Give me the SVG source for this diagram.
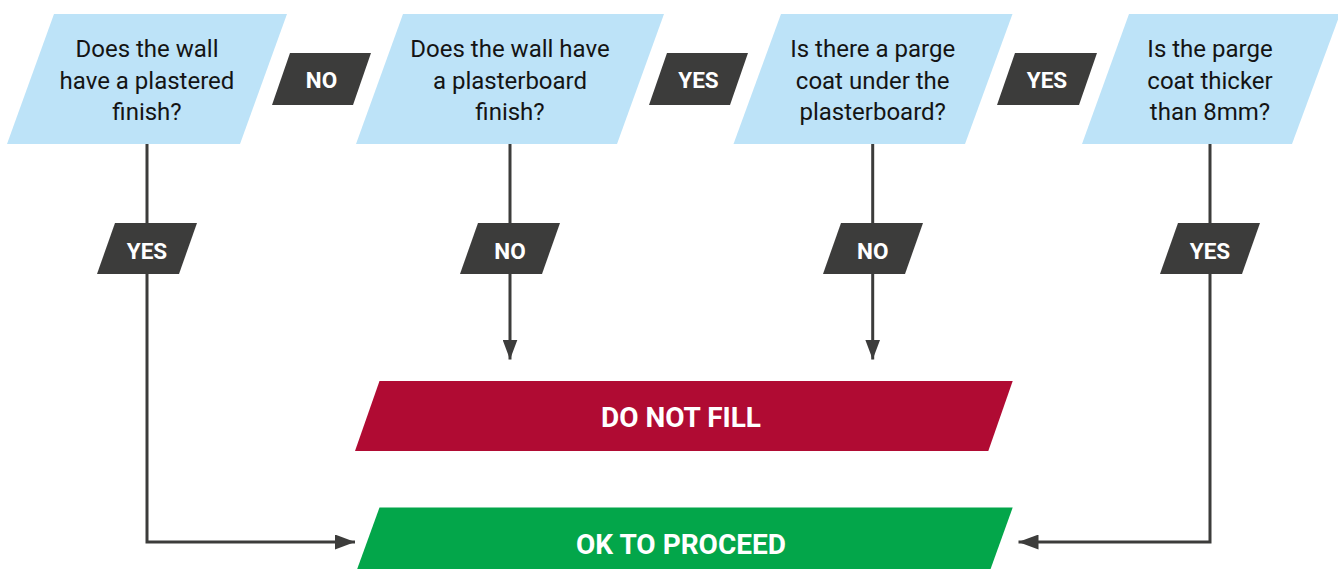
<svg xmlns="http://www.w3.org/2000/svg" width="1338" height="569" viewBox="0 0 1338 569">
  <style>
    .q { fill: #bde3f8; }
    .lbl { fill: #3c3c3b; }
    .qt { font-family: Roboto, "Liberation Sans", sans-serif; font-size: 24px; fill: #141414; text-anchor: middle; }
    .lt { font-family: Roboto, "Liberation Sans", sans-serif; font-size: 22.5px; font-weight: bold; fill: #ffffff; text-anchor: middle; }
    .bt { font-family: Roboto, "Liberation Sans", sans-serif; font-size: 28px; font-weight: bold; fill: #ffffff; text-anchor: middle; }
    .conn { fill: none; stroke: #3c3c3b; stroke-width: 3; }
  </style>
  <defs>
    <marker id="arrow" markerUnits="userSpaceOnUse" markerWidth="20" markerHeight="15" refX="20" refY="7.5" orient="auto">
      <path d="M0,0 L20,7.5 L0,15 z" fill="#3c3c3b"/>
    </marker>
  </defs>
  <rect width="1338" height="569" fill="#ffffff"/>

  <g id="connectors">
    <polyline class="conn" points="147,144 147,542 355,542" marker-end="url(#arrow)"/>
    <line class="conn" x1="510" y1="144" x2="510" y2="359.5" marker-end="url(#arrow)"/>
    <line class="conn" x1="872.7" y1="144" x2="872.7" y2="359.5" marker-end="url(#arrow)"/>
    <polyline class="conn" points="1210,144 1210,542 1018.5,542" marker-end="url(#arrow)"/>
  </g>

  <g id="q1">
    <polygon class="q" points="54,14 287,14 240,144 7,144"/>
    <text class="qt" x="147" y="57">Does the wall</text>
    <text class="qt" x="147" y="88.5">have a plastered</text>
    <text class="qt" x="147" y="120">finish?</text>
  </g>
  <g id="q2">
    <polygon class="q" points="403,14 664,14 617,144 356,144"/>
    <text class="qt" x="510" y="57">Does the wall have</text>
    <text class="qt" x="510" y="88.5">a plasterboard</text>
    <text class="qt" x="510" y="120">finish?</text>
  </g>
  <g id="q3">
    <polygon class="q" points="781,14 1012.5,14 965,144 733.5,144"/>
    <text class="qt" x="872.7" y="57">Is there a parge</text>
    <text class="qt" x="872.7" y="88.5">coat under the</text>
    <text class="qt" x="872.7" y="120">plasterboard?</text>
  </g>
  <g id="q4">
    <polygon class="q" points="1129,14 1340,14 1292,144 1082,144"/>
    <text class="qt" x="1210" y="57">Is the parge</text>
    <text class="qt" x="1210" y="88.5">coat thicker</text>
    <text class="qt" x="1210" y="120">than 8mm?</text>
  </g>

  <g id="label-no-1">
    <polygon class="lbl" points="290,53 371,53 353,105 272,105"/>
    <text class="lt" x="321.5" y="88">NO</text>
  </g>
  <g id="label-yes-1">
    <polygon class="lbl" points="667,53 748,53 730,105 649,105"/>
    <text class="lt" x="698.5" y="88">YES</text>
  </g>
  <g id="label-yes-2">
    <polygon class="lbl" points="1015,53 1097,53 1079,105 997,105"/>
    <text class="lt" x="1047" y="88">YES</text>
  </g>
  <g id="label-yes-3">
    <polygon class="lbl" points="115,223 197,223 179,274 97,274"/>
    <text class="lt" x="147" y="258.5">YES</text>
  </g>
  <g id="label-no-2">
    <polygon class="lbl" points="478,223 560,223 542,274 460,274"/>
    <text class="lt" x="510" y="258.5">NO</text>
  </g>
  <g id="label-no-3">
    <polygon class="lbl" points="841,223 923,223 905,274 823,274"/>
    <text class="lt" x="872.7" y="258.5">NO</text>
  </g>
  <g id="label-yes-4">
    <polygon class="lbl" points="1178,223 1260,223 1242,274 1160,274"/>
    <text class="lt" x="1210" y="258.5">YES</text>
  </g>

  <g id="do-not-fill">
    <polygon fill="#b00b33" points="379.5,381 1012.7,381 988.3,451 355,451"/>
    <text class="bt" x="681" y="427">DO NOT FILL</text>
  </g>
  <g id="ok-to-proceed">
    <polygon fill="#03a64a" points="379.5,507.5 1012.7,507.5 987.7,577 354.3,577"/>
    <text class="bt" x="681" y="553.5">OK TO PROCEED</text>
  </g>
</svg>
